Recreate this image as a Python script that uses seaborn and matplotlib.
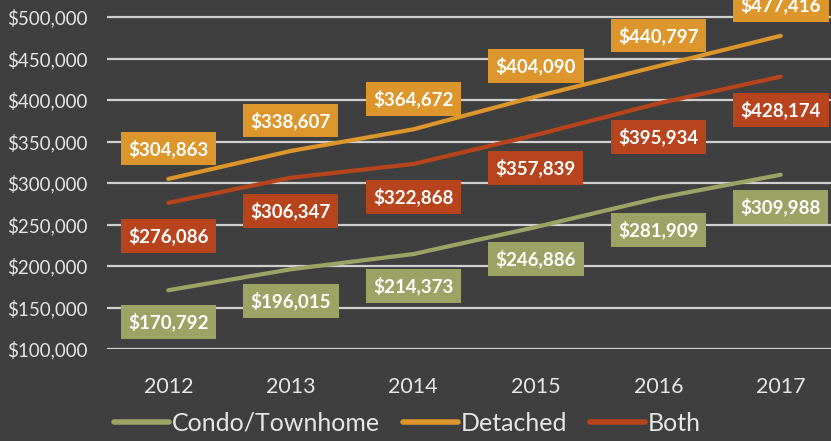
import matplotlib
matplotlib.use("Agg")
import matplotlib.pyplot as plt
import seaborn as sns
import pandas as pd

years = ["2012", "2013", "2014", "2015", "2016", "2017"]
condo = [170792, 196015, 214373, 246886, 281909, 309988]
detached = [304863, 338607, 364672, 404090, 440797, 477416]
both = [276086, 306347, 322868, 357839, 395934, 428174]
series_names = ["Condo/Townhome", "Detached", "Both"]
yticks = [100000, 150000, 200000, 250000, 300000, 350000, 400000, 450000, 500000]

colors = {"Condo/Townhome": "#9BA465", "Detached": "#DC962B", "Both": "#B8441E"}
bg = "#3F3F3F"
txt = "#E6E6E6"

sns.set_theme(style="dark")
plt.rcParams["font.family"] = ["Lato", "DejaVu Sans"]

rows = []
for name, vals in zip(series_names, [condo, detached, both]):
    for y, v in zip(years, vals):
        rows.append({"Year": y, "Value": v, "Series": name})
df = pd.DataFrame(rows)

fig = plt.figure(figsize=(8.31, 4.41), dpi=100, facecolor=bg)
ax = fig.add_axes([107 / 831, 1 - 349 / 441, 1 - 107 / 831, 349 / 441])
ax.set_facecolor(bg)

sns.lineplot(data=df, x="Year", y="Value", hue="Series", palette=colors,
             hue_order=series_names, linewidth=3, sort=False, ax=ax,
             solid_capstyle="round", legend=True)

ax.set_xlim(-0.5, 5.41)
ax.set_ylim(100000, 520500)
ax.set_yticks(yticks)
ax.set_yticklabels([f"${v:,}" for v in yticks])
for g in yticks:
    ax.axhline(g, color="#D0D0D0", lw=1.6, zorder=0)
ax.grid(False)
for s in ax.spines.values():
    s.set_visible(False)
ax.tick_params(axis="y", colors=txt, labelsize=13.5, pad=14, length=0)
ax.tick_params(axis="x", colors=txt, labelsize=15.5, pad=20, length=0)
ax.set_xlabel("")
ax.set_ylabel("")

offsets = {"Condo/Townhome": -23, "Detached": 22, "Both": -24}
for name, vals in zip(series_names, [condo, detached, both]):
    for y, v in zip(years, vals):
        ax.annotate(f"${v:,}", xy=(y, v), xytext=(0, offsets[name]),
                    textcoords="offset points", ha="center", va="center",
                    fontsize=13.5, fontweight="bold", color="white",
                    bbox=dict(boxstyle="square,pad=0.4", fc=colors[name], ec="none"),
                    zorder=5, annotation_clip=False)

leg = ax.legend(loc="lower center", bbox_to_anchor=(0.415, -0.31),
                ncol=3, frameon=False, handlelength=2.2, handletextpad=0.12,
                columnspacing=0.9, fontsize=18)
for t in leg.get_texts():
    t.set_color(txt)
for line in leg.get_lines():
    line.set_linewidth(4)
    line.set_solid_capstyle("round")

fig.savefig("out.png", dpi=100, facecolor=bg)
